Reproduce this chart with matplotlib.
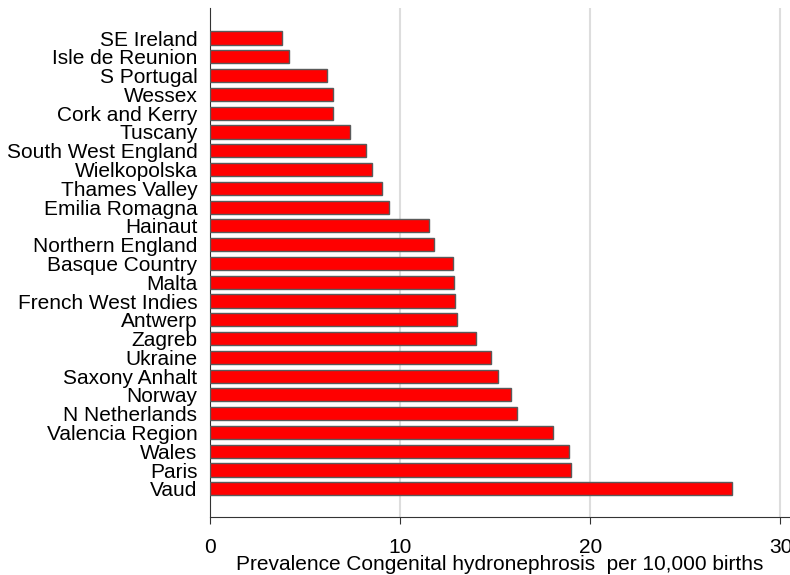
import numpy as np
import matplotlib.pyplot as plt

plt.rcParams['font.family'] = ['Liberation Sans', 'DejaVu Sans']

# registries, top to bottom
regions = ["SE Ireland", "Isle de Reunion", "S Portugal", "Wessex", "Cork and Kerry",
           "Tuscany", "South West England", "Wielkopolska", "Thames Valley",
           "Emilia Romagna", "Hainaut", "Northern England", "Basque Country", "Malta",
           "French West Indies", "Antwerp", "Zagreb", "Ukraine", "Saxony Anhalt",
           "Norway", "N Netherlands", "Valencia Region", "Wales", "Paris", "Vaud"]
prevalence = [3.77, 4.17, 6.14, 6.46, 6.46, 7.35, 8.19, 8.54, 9.04, 9.4, 11.51,
              11.77, 12.77, 12.82, 12.88, 12.98, 13.97, 14.77, 15.13, 15.82, 16.15,
              18.03, 18.87, 18.98, 27.46]
xticks = [0, 10, 20, 30]

fig = plt.figure(figsize=(7.9, 5.75), dpi=100)
ax = fig.add_axes([210/790, 1 - 517/575, 580/790, 509/575])

ypos = np.arange(len(regions))[::-1]
ax.barh(ypos, prevalence, height=0.7, color='#ff0000', edgecolor='#5a5a5a',
        linewidth=1.0, zorder=3)

ax.set_xlim(0, 30.5)
ax.set_ylim(-1.5, len(regions) - 1 + 1.6)
ax.set_xticks(xticks)
ax.set_yticks(ypos)
ax.set_yticklabels(regions)

for x in xticks[1:]:
    ax.axvline(x, color='#dddddd', linewidth=1.5, zorder=0)

for side in ['top', 'right']:
    ax.spines[side].set_visible(False)
ax.spines['left'].set_color('#333333')
ax.spines['bottom'].set_color('#333333')
ax.tick_params(axis='y', length=0, pad=9, labelsize=15)
ax.tick_params(axis='x', length=5, direction='out', color='#333333', labelsize=15, pad=10)

ax.set_xlabel("Prevalence Congenital hydronephrosis  per 10,000 births", fontsize=15,
              labelpad=-1)

fig.savefig("out.png", dpi=100)
plt.close(fig)
